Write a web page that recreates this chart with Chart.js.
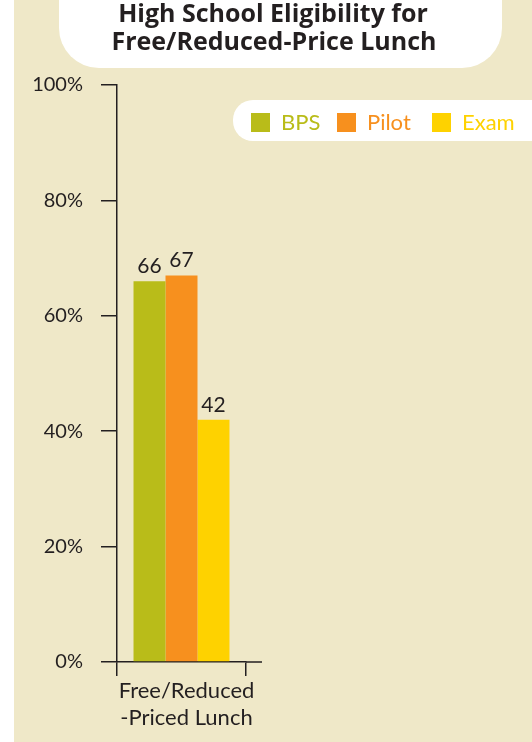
<!DOCTYPE html>
<html>
<head>
<meta charset="utf-8">
<script src="https://cdn.jsdelivr.net/npm/chart.js@4"></script>
<style>
  html, body { margin: 0; padding: 0; background: #ffffff; }
  #wrap { position: relative; width: 532px; height: 742px; }
</style>
</head>
<body>
<div id="wrap"><canvas id="lunchChart" width="532" height="742"></canvas></div>
<script>
// Chart data
const categories = [['Free/Reduced', '-Priced Lunch']];
const seriesNames = ['BPS', 'Pilot', 'Exam'];
const bpsValues = [66];
const pilotValues = [67];
const examValues = [42];
const yTicks = [0, 20, 40, 60, 80, 100];

const colors = ['#b9bc19', '#f7901e', '#fed200'];
const ink = '#231f20';
const beige = '#efe8c8';
const font = 'Lato, "Open Sans", sans-serif';

// Background panel, title tab and legend pill
const backdrop = {
    id: 'backdrop',
    beforeDraw(chart) {
        const c = chart.ctx;
        c.save();
        c.fillStyle = beige;
        c.fillRect(14, 0, 518, 742);

        // white title tab with round bottom corners
        c.fillStyle = '#ffffff';
        c.beginPath();
        c.moveTo(59, 0);
        c.lineTo(59, 28);
        c.arcTo(59, 68, 99, 68, 40);
        c.lineTo(462, 68);
        c.arcTo(502, 68, 502, 28, 40);
        c.lineTo(502, 0);
        c.closePath();
        c.fill();

        c.fillStyle = ink;
        c.font = 'bold 25px "Open Sans", sans-serif';
        c.textAlign = 'center';
        c.textBaseline = 'middle';
        c.fillText('High School Eligibility for', 273, 15);
        c.fillText('Free/Reduced-Price Lunch', 274, 43);

        // legend pill
        c.fillStyle = '#ffffff';
        c.beginPath();
        c.roundRect(233, 100, 330, 41, 20);
        c.fill();
        c.restore();
    },
    afterDraw(chart) {
        const c = chart.ctx;
        const area = chart.chartArea;
        c.save();
        // x axis line extends past the last category
        c.strokeStyle = ink;
        c.lineWidth = 1.5;
        c.beginPath();
        c.moveTo(area.right, area.bottom);
        c.lineTo(area.right + 16, area.bottom);
        c.stroke();

        // legend items
        c.font = '22px ' + font;
        c.textBaseline = 'middle';
        c.textAlign = 'left';
        const legendX = [251, 337, 432];
        chart.data.datasets.forEach((ds, i) => {
            c.fillStyle = ds.backgroundColor;
            c.fillRect(legendX[i], 113, 19, 19);
            c.fillText(ds.label, legendX[i] + 30, 123);
        });

        // value labels above bars
        c.fillStyle = ink;
        c.font = '21px ' + font;
        c.textAlign = 'center';
        c.textBaseline = 'alphabetic';
        chart.data.datasets.forEach((ds, i) => {
            chart.getDatasetMeta(i).data.forEach((bar, j) => {
                c.fillText(ds.data[j], bar.x, bar.y - 8);
            });
        });
        c.restore();
    }
};

new Chart(document.getElementById('lunchChart'), {
    type: 'bar',
    data: {
        labels: categories,
        datasets: [
            { label: seriesNames[0], data: bpsValues, backgroundColor: colors[0] },
            { label: seriesNames[1], data: pilotValues, backgroundColor: colors[1] },
            { label: seriesNames[2], data: examValues, backgroundColor: colors[2] }
        ]
    },
    options: {
        responsive: false,
        animation: false,
        layout: { padding: { left: 0, right: 286, top: 85, bottom: 0 } },
        datasets: { bar: { categoryPercentage: 0.744, barPercentage: 1 } },
        plugins: {
            legend: { display: false },
            title: { display: false },
            tooltip: { enabled: false }
        },
        scales: {
            x: {
                offset: true,
                afterFit: (scale) => { scale.height = 80; },
                border: { display: true, color: ink, width: 1.5 },
                grid: { offset: true, drawOnChartArea: false, drawTicks: true, tickLength: 14, color: ink, lineWidth: 1.5 },
                ticks: { color: ink, font: { family: font, size: 22, lineHeight: 1.25 }, padding: 1, labelOffset: 5, maxRotation: 0 }
            },
            y: {
                min: 0,
                max: 100,
                afterFit: (scale) => { scale.width = 117; },
                afterBuildTicks: (scale) => { scale.ticks = yTicks.map(v => ({ value: v })); },
                border: { display: true, color: ink, width: 1.5 },
                grid: { drawOnChartArea: false, drawTicks: true, tickLength: 16, color: ink, lineWidth: 1.5 },
                ticks: {
                    color: ink,
                    font: { family: font, size: 20 },
                    padding: 18,
                    callback: (v) => v + '%'
                }
            }
        }
    },
    plugins: [backdrop]
});
</script>
</body>
</html>
